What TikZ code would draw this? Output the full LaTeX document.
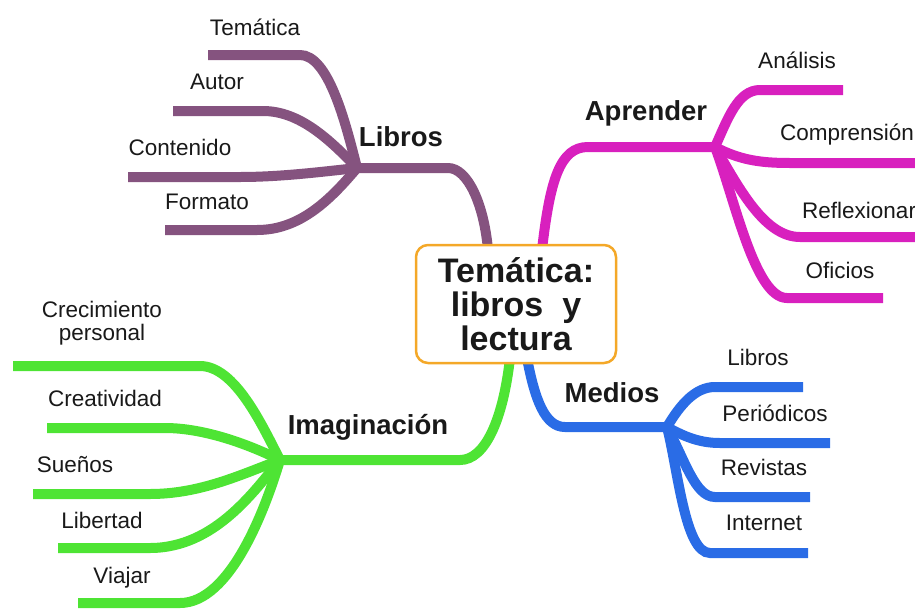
\documentclass[tikz,border=0pt]{standalone}
\usepackage{fontspec}
\setmainfont{Liberation Sans}
\usepackage{xcolor}
\usetikzlibrary{positioning, backgrounds}

\definecolor{libroscol}{RGB}{133,83,127}
\definecolor{aprendercol}{RGB}{216,32,190}
\definecolor{medioscol}{RGB}{42,108,230}
\definecolor{imagcol}{RGB}{78,228,52}
\definecolor{centrocol}{RGB}{244,168,40}
\definecolor{textocol}{RGB}{25,25,25}

\begin{document}
\begin{tikzpicture}[x=1pt, y=-1pt,
  rama/.style={line width=10pt},
  hoja/.style={text=textocol, font=\fontsize{22.5}{23}\selectfont, inner sep=0pt},
  tema/.style={text=textocol, font=\bfseries\fontsize{27.5}{30}\selectfont, inner sep=0pt}]
\useasboundingbox (0,0) rectangle (915,608);

% nodo central
\node[draw=centrocol, line width=2.5pt, rounded corners=12pt, fill=white,
  minimum width=200pt, minimum height=118pt, align=center, text=textocol,
  font=\bfseries\fontsize{34}{34}\selectfont, inner sep=0pt] (centro) at (516,304)
  {Temática:\\libros~~y\\lectura};

% ramas principales
\node[tema] (libros) at (401,137) {Libros};
\node[tema] (aprender) at (646,113) {Aprender};
\node[tema] (medios) at (612,393) {Medios};
\node[tema] (imaginacion) at (368,427) {Imaginación};

% puntos de reparto
\coordinate (hubL) at (357,168);
\coordinate (hubA) at (715,147);
\coordinate (hubM) at (667,427);
\coordinate (hubI) at (280,460);

% hojas de Libros
\node[hoja] (tematica) at (255,27) {Temática};
\node[hoja] (autor) at (217,82) {Autor};
\node[hoja] (contenido) at (180,147) {Contenido};
\node[hoja] (formato) at (207,202) {Formato};
\coordinate (tematicaE) at (208,55);
\coordinate (autorE) at (173,111);
\coordinate (contenidoE) at (128,177);
\coordinate (formatoE) at (165,230);

% hojas de Aprender
\node[hoja] (analisis) at (797,60) {Análisis};
\node[hoja, anchor=west] (comprension) at (780,135) {Comprensión};
\node[hoja, anchor=west] (reflexionar) at (802,210) {Reflexionar};
\node[hoja] (oficios) at (840,270) {Oficios};
\coordinate (analisisE) at (843,90);
\coordinate (comprensionE) at (925,163);
\coordinate (reflexionarE) at (925,237);
\coordinate (oficiosE) at (883,298);

% hojas de Medios
\node[hoja] (mlibros) at (758,357) {Libros};
\node[hoja] (periodicos) at (775,413) {Periódicos};
\node[hoja] (revistas) at (764,467) {Revistas};
\node[hoja] (internet) at (764,523) {Internet};
\coordinate (mlibrosE) at (803,387);
\coordinate (periodicosE) at (830,443);
\coordinate (revistasE) at (810,497);
\coordinate (internetE) at (808,553);

% hojas de Imaginación
\node[hoja, align=center] (crecimiento) at (102,323) {Crecimiento\\personal};
\node[hoja] (creatividad) at (105,398) {Creatividad};
\node[hoja] (suenos) at (75,465) {Sueños};
\node[hoja] (libertad) at (102,520) {Libertad};
\node[hoja] (viajar) at (122,578) {Viajar};
\coordinate (crecimientoE) at (13,366);
\coordinate (creatividadE) at (47,428);
\coordinate (suenosE) at (33,494);
\coordinate (libertadE) at (58,548);
\coordinate (viajarE) at (78,603);

\begin{scope}[on background layer]
% Libros
\draw[rama, libroscol] ([xshift=-28pt, yshift=-6pt]centro.north) .. controls (484,205) and (468,168) .. (448,168) -- (hubL);
\draw[rama, libroscol] (hubL) .. controls (345,120) and (328,55) .. (300,55) -- (tematicaE);
\draw[rama, libroscol] (hubL) .. controls (330,140) and (300,111) .. (263,111) -- (autorE);
\draw[rama, libroscol] (hubL) .. controls (320,172) and (280,177) .. (240,177) -- (contenidoE);
\draw[rama, libroscol] (hubL) .. controls (330,200) and (300,230) .. (257,230) -- (formatoE);

% Aprender
\draw[rama, aprendercol] ([xshift=26pt, yshift=-6pt]centro.north) .. controls (550,180) and (560,147) .. (588,147) -- (hubA);
\draw[rama, aprendercol] (hubA) .. controls (728,118) and (738,90) .. (760,90) -- (analisisE);
\draw[rama, aprendercol] (hubA) .. controls (740,160) and (760,163) .. (790,163) -- (comprensionE);
\draw[rama, aprendercol] (hubA) .. controls (740,190) and (765,237) .. (800,237) -- (reflexionarE);
\draw[rama, aprendercol] (hubA) .. controls (735,200) and (755,298) .. (787,298) -- (oficiosE);

% Medios
\draw[rama, medioscol] ([xshift=11pt, yshift=6pt]centro.south) .. controls (535,400) and (545,427) .. (565,427) -- (hubM);
\draw[rama, medioscol] (hubM) .. controls (680,405) and (695,387) .. (715,387) -- (mlibrosE);
\draw[rama, medioscol] (hubM) .. controls (685,437) and (700,443) .. (720,443) -- (periodicosE);
\draw[rama, medioscol] (hubM) .. controls (685,460) and (695,497) .. (715,497) -- (revistasE);
\draw[rama, medioscol] (hubM) .. controls (678,470) and (685,553) .. (710,553) -- (internetE);

% Imaginación
\draw[rama, imagcol] ([xshift=-6pt, yshift=6pt]centro.south) .. controls (503,420) and (485,460) .. (460,460) -- (hubI);
\draw[rama, imagcol] (hubI) .. controls (262,425) and (235,366) .. (200,366) -- (crecimientoE);
\draw[rama, imagcol] (hubI) .. controls (250,445) and (205,428) .. (165,428) -- (creatividadE);
\draw[rama, imagcol] (hubI) .. controls (240,475) and (200,494) .. (150,494) -- (suenosE);
\draw[rama, imagcol] (hubI) .. controls (255,490) and (215,548) .. (150,548) -- (libertadE);
\draw[rama, imagcol] (hubI) .. controls (265,510) and (230,603) .. (180,603) -- (viajarE);
\end{scope}
\end{tikzpicture}
\end{document}
